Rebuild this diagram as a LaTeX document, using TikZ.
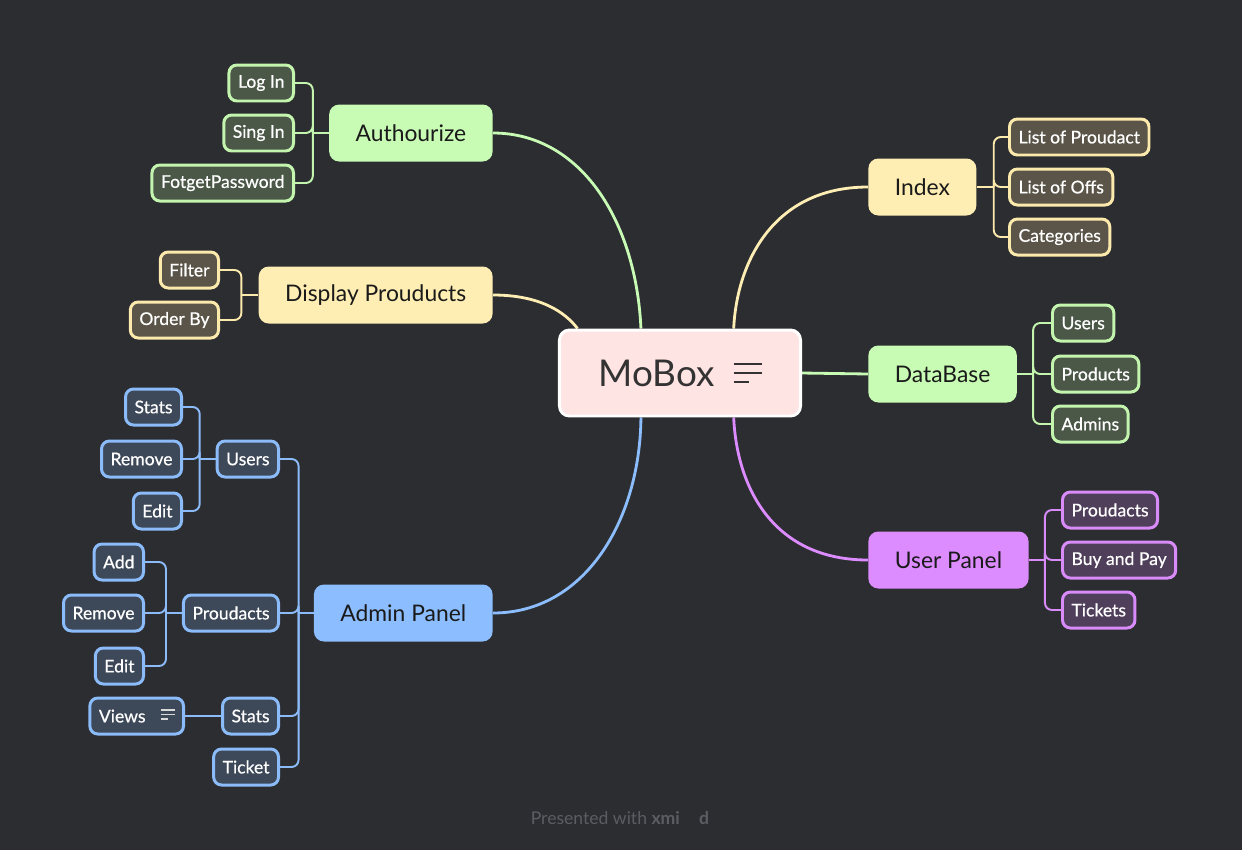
\documentclass[tikz,border=0pt]{standalone}
\usepackage{fontspec}
\setmainfont{Lato}
\newfontfamily\leafface{Lato}[FakeBold=0.6]
\usetikzlibrary{calc,backgrounds}
\definecolor{colBg}{HTML}{2C2D31}
\definecolor{colHub}{HTML}{FFE4E4}
\definecolor{colHubInk}{HTML}{333333}
\definecolor{colInk}{HTML}{1A1A1A}
\definecolor{colFoot}{HTML}{5C5D62}
\definecolor{colGreen}{HTML}{C8FBB4}
\definecolor{colGreenDk}{HTML}{4B5848}
\definecolor{colGreenLn}{HTML}{C4F5AE}
\definecolor{colYellow}{HTML}{FFEEB3}
\definecolor{colYellowDk}{HTML}{5A5548}
\definecolor{colYellowLn}{HTML}{FCE9AC}
\definecolor{colBlue}{HTML}{8CBEFF}
\definecolor{colBlueDk}{HTML}{3D4858}
\definecolor{colBlueLn}{HTML}{8BBBF9}
\definecolor{colPurple}{HTML}{DC8CFF}
\definecolor{colPurpleDk}{HTML}{4F3F5B}
\definecolor{colPurpleLn}{HTML}{D98BF9}
\def\hubfont{\fontsize{21pt}{25pt}\selectfont}
\def\topfont{\fontsize{13pt}{15pt}\selectfont}
\def\leaffont{\leafface\fontsize{10pt}{12pt}\selectfont}
\def\footfont{\fontsize{10pt}{12pt}\selectfont}
% note icon: width, thickness, gap, raise
\newcommand{\memoicon}[4]{%
  \raisebox{#4}{\vbox{\hrule width #1 height #2\vskip #3%
    \hrule width #1 height #2\vskip #3%
    \hrule width \dimexpr #1*55/100\relax height #2}}}
\tikzset{
  hub/.style={draw=white, fill=colHub, line width=1.7pt, rounded corners=5.7pt,
    minimum height=1.72cm, inner xsep=0.78cm, font=\hubfont, text=colHubInk},
  topic/.style={fill=col#1, rounded corners=5.7pt, minimum height=1.14cm,
    inner xsep=0.53cm, inner ysep=0pt, font=\topfont, text=colInk},
  leaf/.style={draw=col#1Ln, fill=col#1Dk, line width=1.7pt, rounded corners=4.5pt,
    minimum height=0.72cm, inner xsep=0.18cm, inner ysep=0pt, font=\leaffont, text=white},
  branch/.style={draw=col#1, line width=1.6pt},
  twig/.style={draw=col#1Ln, line width=1.1pt, rounded corners=4pt},
}

\begin{document}
\begin{tikzpicture}[x=0.02cm, y=-0.02cm]

\begin{pgfonlayer}{background}
\fill[colBg] (0,0) rectangle (1242,850);
\end{pgfonlayer}

% ===================== HUB =====================
\node[hub] (hub) at (680,373)
  {MoBox\hspace{0.38cm}\memoicon{0.56cm}{0.05cm}{0.13cm}{0.06cm}};

% ===================== LEFT: Authourize =====================
\node[topic=Green, anchor=east] (auth) at (493,133) {Authourize};
\node[leaf=Green, anchor=east] (logIn) at (295,83) {Log In};
\node[leaf=Green, anchor=east] (singIn) at (295,133) {Sing In};
\node[leaf=Green, anchor=east] (fotPass) at (295,183) {FotgetPassword};

% ===================== LEFT: Display Prouducts =====================
\node[topic=Yellow, anchor=east] (disp) at (493,295) {Display Prouducts};
\node[leaf=Yellow, anchor=east] (filt) at (220,270) {Filter};
\node[leaf=Yellow, anchor=east] (ordBy) at (220,320) {Order By};

% ===================== LEFT: Admin Panel =====================
\node[topic=Blue, anchor=east] (adm) at (493,613) {Admin Panel};
\node[leaf=Blue, anchor=east] (admUsr) at (280,459) {Users};
\node[leaf=Blue, anchor=east] (admPrd) at (280,613) {Proudacts};
\node[leaf=Blue, anchor=east] (admStats) at (280,716) {Stats};
\node[leaf=Blue, anchor=east] (admTick) at (280,767) {Ticket};
\node[leaf=Blue, anchor=east] (usrStats) at (183,407) {Stats};
\node[leaf=Blue, anchor=east] (usrRem) at (183,459) {Remove};
\node[leaf=Blue, anchor=east] (usrEdit) at (183,511) {Edit};
\node[leaf=Blue, anchor=east] (prdAdd) at (145,562) {Add};
\node[leaf=Blue, anchor=east] (prdRem) at (145,613) {Remove};
\node[leaf=Blue, anchor=east] (prdEdit) at (145,666) {Edit};
\node[leaf=Blue, anchor=east] (views) at (185,716)
  {Views\hspace{0.3cm}{\color{white!85!black}\memoicon{0.28cm}{0.03cm}{0.06cm}{0.05cm}}};

% ===================== RIGHT: Index =====================
\node[topic=Yellow, anchor=west] (idx) at (868,187) {Index};
\node[leaf=Yellow, anchor=west] (lstPrd) at (1008,137) {List of Proudact};
\node[leaf=Yellow, anchor=west] (lstOff) at (1008,187) {List of Offs};
\node[leaf=Yellow, anchor=west] (cats) at (1008,237) {Categories};

% ===================== RIGHT: DataBase =====================
\node[topic=Green, anchor=west] (db) at (868,374) {DataBase};
\node[leaf=Green, anchor=west] (dbUsr) at (1051,323) {Users};
\node[leaf=Green, anchor=west] (dbPrd) at (1051,374) {Products};
\node[leaf=Green, anchor=west] (dbAdm) at (1051,424) {Admins};

% ===================== RIGHT: User Panel =====================
\node[topic=Purple, anchor=west] (upan) at (868,560) {User Panel};
\node[leaf=Purple, anchor=west] (upPrd) at (1061,510) {Proudacts};
\node[leaf=Purple, anchor=west] (upBuy) at (1061,560) {Buy and Pay};
\node[leaf=Purple, anchor=west] (upTick) at (1061,610) {Tickets};

% ===================== FOOTER =====================
\node[font=\footfont, text=colFoot] (foot) at (620,818)
  {Presented with \textbf{xmi\hspace{1.1em}d}};

% ===================== CONNECTORS =====================
\coordinate (authIn) at ($(hub.north west)!0.34!(hub.north east)$);
\coordinate (dispIn) at ($(hub.north west)!0.08!(hub.north east)$);
\coordinate (admIn) at ($(hub.south west)!0.34!(hub.south east)$);
\coordinate (idxIn) at ($(hub.north west)!0.72!(hub.north east)$);
\coordinate (upanIn) at ($(hub.south west)!0.72!(hub.south east)$);

\coordinate (authJ) at ($(auth.west)+(-16,0)$);
\coordinate (dispJ) at ($(disp.west)+(-17,0)$);
\coordinate (admJ) at ($(adm.west)+(-15,0)$);
\coordinate (usrJ) at ($(admUsr.west)+(-16,0)$);
\coordinate (prdJ) at ($(admPrd.west)+(-16,0)$);
\coordinate (idxJ) at ($(idx.east)+(17,0)$);
\coordinate (dbJ) at ($(db.east)+(16,0)$);
\coordinate (upanJ) at ($(upan.east)+(16,0)$);

\begin{pgfonlayer}{background}
\draw[branch=Green] (auth.east) .. controls (580,133) and (636,220) .. (authIn);
\draw[branch=Yellow] (disp.east) .. controls (540,295) and (565,312) .. (dispIn);
\draw[branch=Blue] (adm.east) .. controls (585,613) and (640,520) .. (admIn);
\draw[branch=Yellow] (idx.west) .. controls (775,187) and (737,260) .. (idxIn);
\draw[branch=Green] (hub.east) -- (db.west);
\draw[branch=Purple] (upan.west) .. controls (775,560) and (737,490) .. (upanIn);

\foreach \leafname in {logIn, singIn, fotPass}
  \draw[twig=Green] (\leafname.east) -| (authJ);
\draw[twig=Green] (authJ) -- (auth.west);

\foreach \leafname in {filt, ordBy}
  \draw[twig=Yellow] (\leafname.east) -| (dispJ);
\draw[twig=Yellow] (dispJ) -- (disp.west);

\foreach \leafname in {admUsr, admPrd, admStats, admTick}
  \draw[twig=Blue] (\leafname.east) -| (admJ);
\draw[twig=Blue] (admJ) -- (adm.west);
\foreach \leafname in {usrStats, usrRem, usrEdit}
  \draw[twig=Blue] (\leafname.east) -| (usrJ);
\draw[twig=Blue] (usrJ) -- (admUsr.west);
\foreach \leafname in {prdAdd, prdRem, prdEdit}
  \draw[twig=Blue] (\leafname.east) -| (prdJ);
\draw[twig=Blue] (prdJ) -- (admPrd.west);
\draw[twig=Blue] (views.east) -- (admStats.west);

\foreach \leafname in {lstPrd, lstOff, cats}
  \draw[twig=Yellow] (\leafname.west) -| (idxJ);
\draw[twig=Yellow] (idxJ) -- (idx.east);

\foreach \leafname in {dbUsr, dbPrd, dbAdm}
  \draw[twig=Green] (\leafname.west) -| (dbJ);
\draw[twig=Green] (dbJ) -- (db.east);

\foreach \leafname in {upPrd, upBuy, upTick}
  \draw[twig=Purple] (\leafname.west) -| (upanJ);
\draw[twig=Purple] (upanJ) -- (upan.east);
\end{pgfonlayer}

\end{tikzpicture}
\end{document}
